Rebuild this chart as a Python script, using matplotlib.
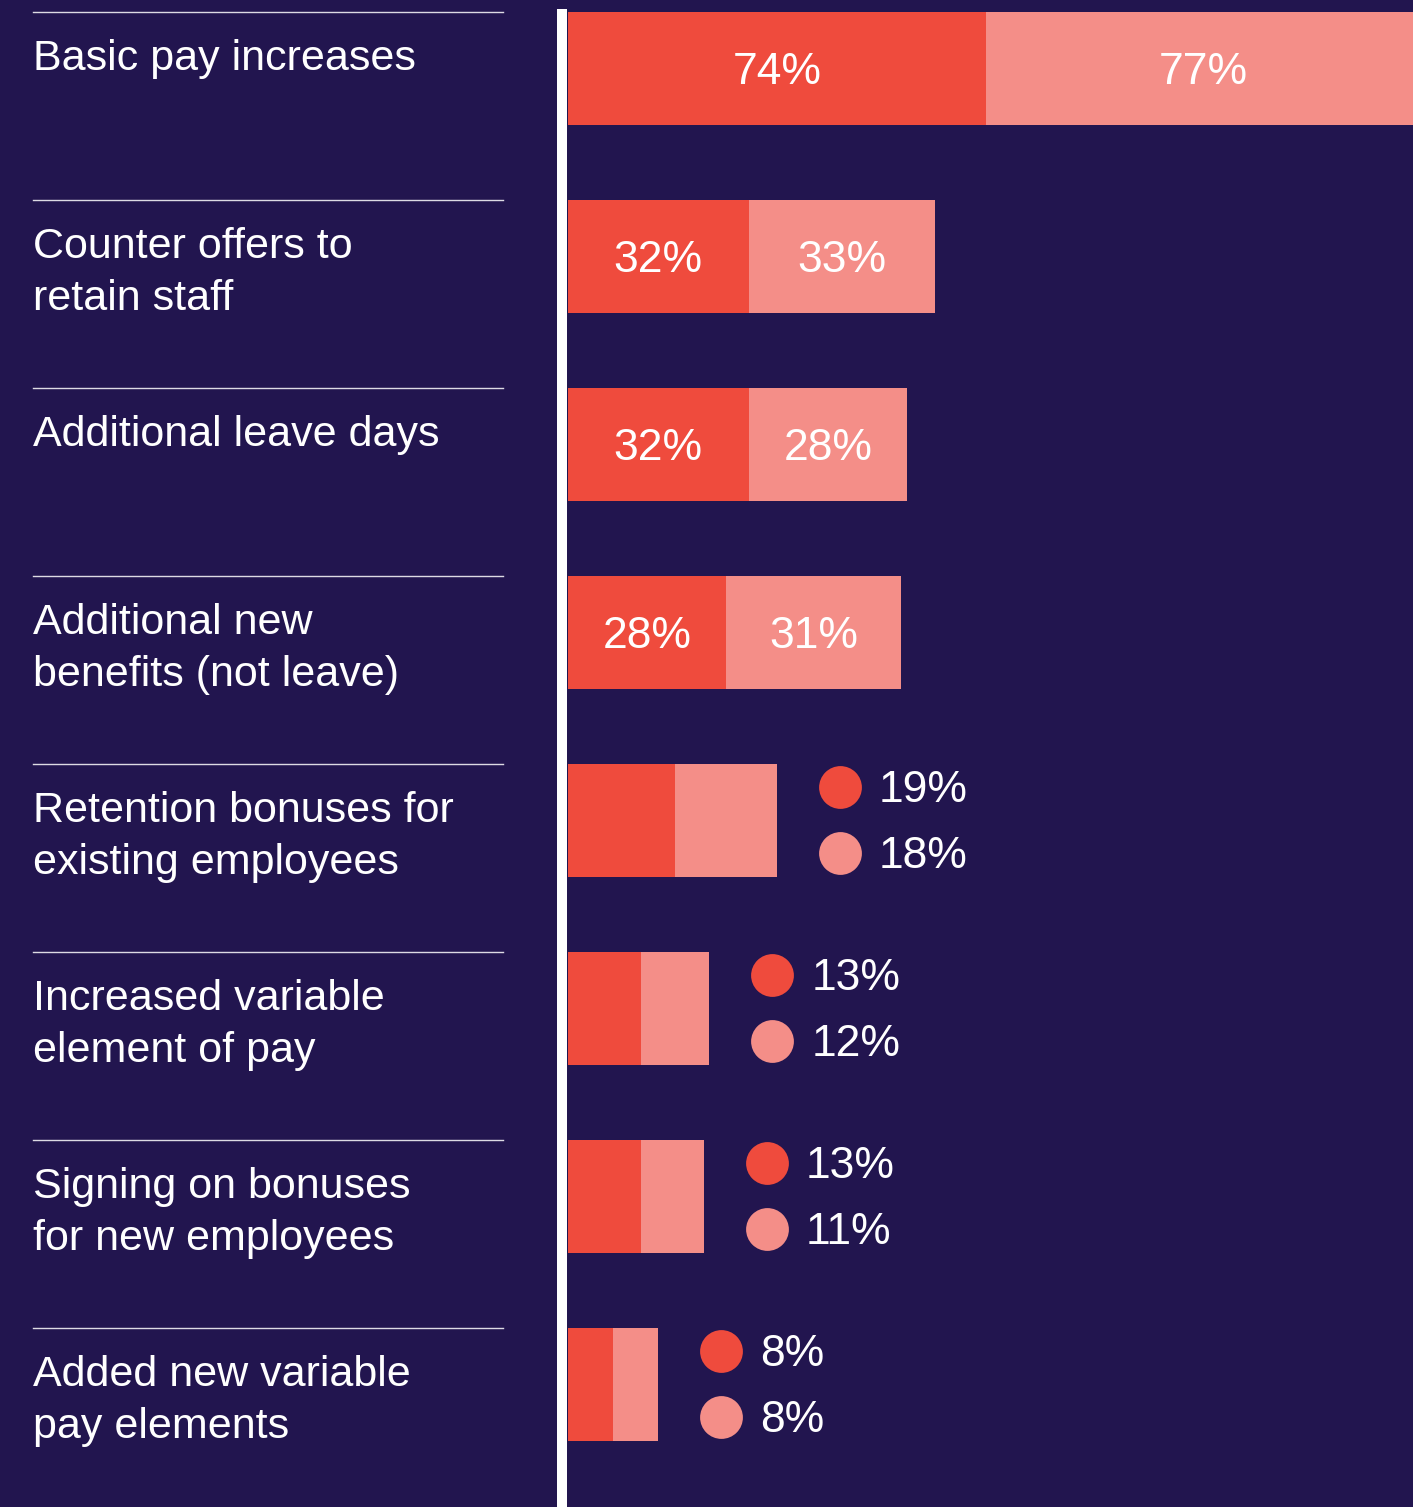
import matplotlib.pyplot as plt
from matplotlib.lines import Line2D

# retention measures, two survey waves
labels = [
    "Basic pay increases",
    "Counter offers to\nretain staff",
    "Additional leave days",
    "Additional new\nbenefits (not leave)",
    "Retention bonuses for\nexisting employees",
    "Increased variable\nelement of pay",
    "Signing on bonuses\nfor new employees",
    "Added new variable\npay elements",
]
wave_a = [74, 32, 32, 28, 19, 13, 13, 8]
wave_b = [77, 33, 28, 31, 18, 12, 11, 8]

BG = "#22154f"
DARK = "#ef4b3d"
LIGHT = "#f48e88"
FONT = "Liberation Sans"

W, H = 1413, 1507
fig = plt.figure(figsize=(W / 100, H / 100), dpi=100, facecolor=BG)


def fx(x):
    return x / W


def fy(y):
    return 1 - y / H


# bar panel: pixels 568..1413 wide, rows every 188 px
px_per_pct = 5.65
row_px = 188
first_center = 68.5
ax = fig.add_axes([fx(568), 0, (W - 568) / W, 1])
ax.set_facecolor(BG)
ax.set_xlim(0, (W - 568) / px_per_pct)
ax.set_ylim((H - first_center) / row_px, -first_center / row_px)
ax.axis("off")

rows = range(len(labels))
ax.barh(rows, wave_a, height=113 / row_px, color=DARK, align="center")
ax.barh(rows, wave_b, left=wave_a, height=113 / row_px, color=LIGHT, align="center")

# digits are ~31 px tall, so the baseline sits half of that below the centre
base = 15.5 / row_px
for i, (a, b) in enumerate(zip(wave_a, wave_b)):
    if a >= 25:
        ax.text(a / 2, i + base, f"{a}%", color="white", fontsize=32, family=FONT,
                ha="center", va="baseline")
        ax.text(a + b / 2, i + base, f"{b}%", color="white", fontsize=32,
                family=FONT, ha="center", va="baseline")
    else:
        cx = a + b + 63 / px_per_pct
        for val, col, dy in [(a, DARK, -33.5), (b, LIGHT, 32.5)]:
            ax.scatter([cx], [i + dy / row_px], s=950, color=col, linewidths=0)
            ax.text(cx + 39 / px_per_pct, i + dy / row_px + base, f"{val}%",
                    color="white", fontsize=32, family=FONT, ha="left",
                    va="baseline")

# white divider left of the bars
fig.add_artist(plt.Rectangle((fx(557), 0), 10 / W, fy(9), color="white",
                             transform=fig.transFigure, lw=0))

# category labels with rules above them
for i, lab in enumerate(labels):
    top = 12 + row_px * i
    fig.add_artist(Line2D([fx(33), fx(503)], [fy(top), fy(top)], color="white",
                          lw=1, alpha=0.85))
    for j, line in enumerate(lab.split("\n")):
        fig.text(fx(33), fy(top + 58 + 52 * j), line, color="white",
                 fontsize=31, family=FONT, ha="left", va="baseline")

fig.savefig("out.png", dpi=100, facecolor=BG)
